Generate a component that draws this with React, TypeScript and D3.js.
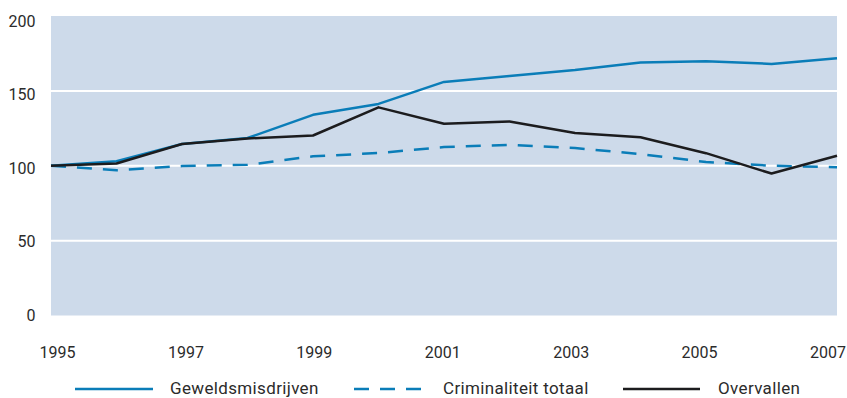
import React from "react";
import * as d3 from "d3";

const years = [1995, 1996, 1997, 1998, 1999, 2000, 2001, 2002, 2003, 2004, 2005, 2006, 2007];
const geweld = [100, 103, 114.5, 118.5, 134, 141.3, 156, 160, 164, 169, 169.8, 168, 171.8];
const criminaliteit = [100, 97, 99.8, 100.6, 106.3, 108.5, 112.5, 114, 111.8, 107.8, 102.5, 100, 99];
const overvallen = [100, 101.5, 114.5, 118.2, 120.2, 139, 128, 129.6, 121.8, 119, 108.4, 94.8, 106.7];
const yTicks = [0, 50, 100, 150, 200];
const xTickYears = [1995, 1997, 1999, 2001, 2003, 2005, 2007];
const seriesNames = ["Geweldsmisdrijven", "Criminaliteit totaal", "Overvallen"];

const W = 847;
const H = 398;
const BLUE = "#0a7db8";
const BLACK = "#1c1c1e";
const BG = "#cddaea";
const TEXT = "#2b2b2b";
const FONT = "Roboto, 'Liberation Sans', Arial, sans-serif";

export default function App() {
  const x = d3.scaleLinear().domain([1995, 2007]).range([51, 837]);
  const y = d3.scaleLinear().domain([0, 200]).range([315.5, 16]);
  const xLab = d3.scaleLinear().domain([1995, 2007]).range([57.5, 828]);
  const yLab = d3.scaleLinear().domain([0, 200]).range([315, 21.5]);

  const line = (vals: number[]) =>
    d3
      .line<number>()
      .x((_, i) => x(years[i]))
      .y((v) => y(v))(vals) as string;

  const legendY = 389;
  const legend = [
    { name: seriesNames[0], x1: 75, x2: 153, tx: 170, color: BLUE, dash: undefined },
    { name: seriesNames[1], x1: 354, x2: 424, tx: 443, color: BLUE, dash: "15 11" },
    { name: seriesNames[2], x1: 623, x2: 700, tx: 718, color: BLACK, dash: undefined },
  ];

  return (
    <svg
      width={W}
      height={H}
      style={{ position: "absolute", left: 0, top: 0, display: "block" }}
      fontFamily={FONT}
    >
      <rect x={x(1995)} y={y(200)} width={x(2007) - x(1995)} height={y(0) - y(200)} fill={BG} />
      {yTicks
        .filter((t) => t > 0 && t < 200)
        .map((t) => (
          <line
            key={t}
            x1={x(1995)}
            x2={x(2007)}
            y1={y(t)}
            y2={y(t)}
            stroke="#ffffff"
            strokeWidth={2}
          />
        ))}
      {yTicks.map((t) => (
        <text
          key={t}
          x={35.5}
          y={yLab(t)}
          textAnchor="end"
          dominantBaseline="central"
          fontSize={16}
          fill={TEXT}
        >
          {t}
        </text>
      ))}
      {xTickYears.map((yr) => (
        <text
          key={yr}
          x={xLab(yr)}
          y={357.5}
          textAnchor="middle"
          fontSize={16}
          fill={TEXT}
        >
          {yr}
        </text>
      ))}
      <path d={line(geweld)} fill="none" stroke={BLUE} strokeWidth={2.5} strokeLinejoin="round" />
      <path
        d={line(criminaliteit)}
        fill="none"
        stroke={BLUE}
        strokeWidth={2.5}
        strokeDasharray="15 11"
        strokeLinejoin="round"
      />
      <path d={line(overvallen)} fill="none" stroke={BLACK} strokeWidth={2.5} strokeLinejoin="round" />
      {legend.map((l) => (
        <g key={l.name}>
          <line
            x1={l.x1}
            x2={l.x2}
            y1={legendY}
            y2={legendY}
            stroke={l.color}
            strokeWidth={2.5}
            strokeDasharray={l.dash}
          />
          <text
            x={l.tx}
            y={394}
            fontSize={17}
            letterSpacing={0.35}
            fill={TEXT}
          >
            {l.name}
          </text>
        </g>
      ))}
    </svg>
  );
}
